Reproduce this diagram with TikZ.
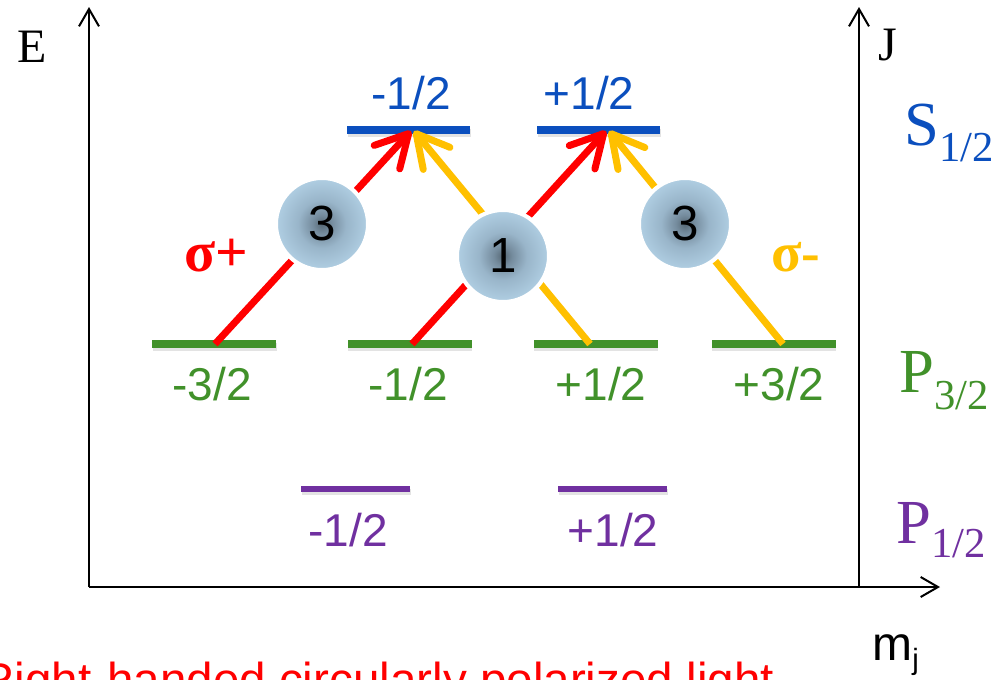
\documentclass[tikz,border=0pt]{standalone}
\usepackage{fontspec}
\setmainfont{Liberation Serif}
\setsansfont{Liberation Sans}
\usetikzlibrary{arrows.meta,shadows}

\definecolor{lvlblue}{HTML}{0B4FBE}
\definecolor{lvlgreen}{HTML}{41912A}
\definecolor{lvlpurple}{HTML}{7030A0}
\definecolor{sigred}{HTML}{FF0000}
\definecolor{sigamber}{HTML}{FFC000}

% bluish ball with a darker core for the Clebsch-Gordan weights
\pgfdeclareradialshading{ballshade}{\pgfpoint{0bp}{0bp}}{%
  rgb(0bp)=(0.34,0.41,0.46);
  rgb(5bp)=(0.46,0.55,0.62);
  rgb(13bp)=(0.60,0.71,0.79);
  rgb(25bp)=(0.69,0.81,0.89);
  rgb(50bp)=(0.69,0.81,0.89)}

\newcommand\fsz[1]{\fontsize{#1}{#1}\selectfont}

\begin{document}
\begin{tikzpicture}[x=0.75pt,y=-0.75pt,
  level/.style={rectangle, inner sep=0pt, fill=#1,
    drop shadow={shadow xshift=0.6pt, shadow yshift=-2.2pt, opacity=0.22}},
  sbar/.style={level=lvlblue, minimum width=92.25pt, minimum height=6pt},
  pbar/.style={level=lvlgreen, minimum width=93pt, minimum height=5.5pt},
  qbar/.style={level=lvlpurple, minimum width=81.75pt, minimum height=4.5pt},
  mlabel/.style={anchor=base, inner sep=0pt, font=\sffamily\fsz{34.5}},
  term/.style={anchor=base west, inner sep=0pt, font=\fsz{47}},
  transition/.style={line width=5.25pt,
    -{Straight Barb[length=24pt,width=26pt,round]}},
  axis/.style={line width=1.5pt, -{Straight Barb[length=13pt,width=15pt]}},
  weight/.style={circle, inner sep=0pt, minimum size=69pt, shading=ballshade,
    draw=white, line width=3pt, font=\sffamily\fsz{37}},
]
\useasboundingbox (0,0) rectangle (1007,679);
\clip (0,0) rectangle (1007,679);

% Zeeman sublevels
\node[sbar] (sA) at (408.5,130) {};
\node[sbar] (sB) at (598.5,130) {};
\node[pbar] (pA) at (214,344) {};
\node[pbar] (pB) at (409.5,344) {};
\node[pbar] (pC) at (595.5,344) {};
\node[pbar] (pD) at (773.5,344) {};
\node[qbar] (qA) at (355.5,489) {};
\node[qbar] (qB) at (612.5,489) {};

% transition end points on the levels
\coordinate (r1a) at (215,344);
\coordinate (r1b) at (411,131);
\coordinate (r2a) at (412,344);
\coordinate (r2b) at (606,131);
\coordinate (y1a) at (590,344);
\coordinate (y1b) at (414,131);
\coordinate (y2a) at (783,344);
\coordinate (y2b) at (609,131);

% sigma+ and sigma- transitions
\draw[transition, sigred] (r1a) -- (r1b);
\draw[transition, sigred] (r2a) -- (r2b);
\draw[transition, sigamber] (y1a) -- (y1b);
\draw[transition, sigamber] (y2a) -- (y2b);

% relative strengths
\node[weight] (wL) at (322,224) {3};
\node[weight] (wM) at (503,256) {1};
\node[weight] (wR) at (685,224) {3};

% m_j labels
\node[mlabel, text=lvlblue] (lsA) at (411,109) {-1/2};
\node[mlabel, text=lvlblue] (lsB) at (589,109) {+1/2};
\node[mlabel, text=lvlgreen] (lpA) at (212,400) {-3/2};
\node[mlabel, text=lvlgreen] (lpB) at (408,400) {-1/2};
\node[mlabel, text=lvlgreen] (lpC) at (601,400) {+1/2};
\node[mlabel, text=lvlgreen] (lpD) at (779,400) {+3/2};
\node[mlabel, text=lvlpurple] (lqA) at (348,546) {-1/2};
\node[mlabel, text=lvlpurple] (lqB) at (613,546) {+1/2};

% polarisation labels
\node[anchor=base west, inner sep=0pt, text=sigred, font=\bfseries\fsz{43}] (sigp) at (184,271) {σ+};
\node[anchor=base west, inner sep=0pt, text=sigamber, font=\bfseries\fsz{42}] (sigm) at (771,271) {σ-};

% term symbols
\node[term, text=lvlblue] (tS) at (904,145) {S\raisebox{-12pt}{\fsz{32}1/2}};
\node[term, text=lvlgreen] (tP3) at (899,392) {P\raisebox{-13pt}{\fsz{32}3/2}};
\node[term, text=lvlpurple] (tP1) at (896,543) {P\raisebox{-11pt}{\fsz{32}1/2}};

% axes
\coordinate (orig) at (89,587);
\coordinate (etop) at (89,7);
\coordinate (jbot) at (859,587);
\coordinate (jtop) at (859,7);
\coordinate (mend) at (940,587);
\draw[axis] (orig) -- (etop);
\draw[axis] (jbot) -- (jtop);
\draw[axis] (orig) -- (mend);

\node[anchor=base, inner sep=0pt, font=\fsz{36}] (elab) at (32,62) {E};
\node[anchor=base, inner sep=0pt, font=\fsz{36}] (jlab) at (888,60) {J};
\node[anchor=base west, inner sep=0pt, font=\sffamily\fsz{36}] (mlab) at (872,660) {m\raisebox{-7pt}{\fsz{22}j}};

% caption runs past the lower edge of the page
\node[anchor=base west, inner sep=0pt, text=sigred, font=\sffamily\fsz{35.7}] (caption) at (-20,696) {Right-handed circularly polarized light};
\end{tikzpicture}
\end{document}
